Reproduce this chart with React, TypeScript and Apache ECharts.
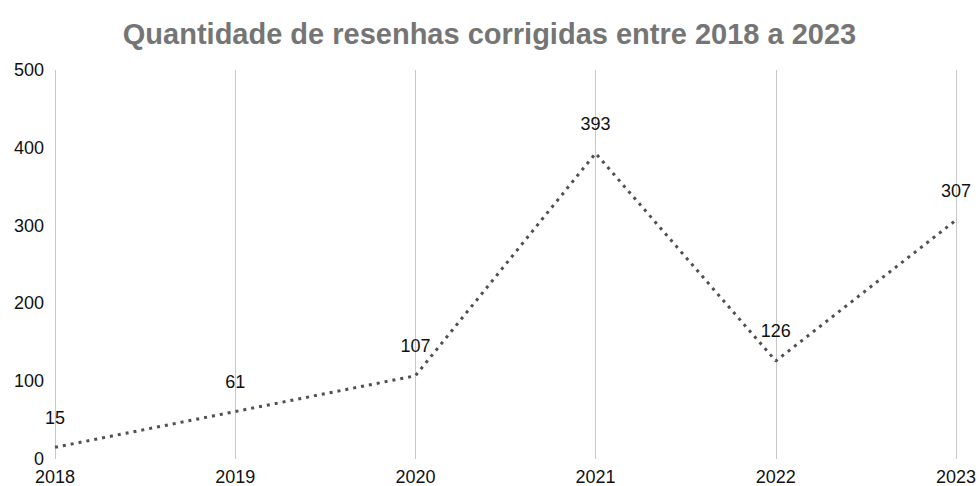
import React, { useEffect, useRef } from "react";
import * as echarts from "echarts";

const years = ["2018", "2019", "2020", "2021", "2022", "2023"];
const values = [15, 61, 107, 393, 126, 307];
const yTicks = [0, 100, 200, 300, 400, 500];
const titleText = "Quantidade de resenhas corrigidas entre 2018 a 2023";

const FONT = "Liberation Sans, Arial, sans-serif";

export default function App() {
  const ref = useRef<HTMLDivElement>(null);
  useEffect(() => {
    if (!ref.current) return;
    const chart = echarts.init(ref.current, undefined, { renderer: "svg" });
    chart.setOption({
      animation: false,
      backgroundColor: "#ffffff",
      title: {
        text: titleText,
        left: "center",
        top: 14,
        textStyle: {
          fontFamily: FONT,
          fontSize: 29,
          fontWeight: "bold",
          color: "#757575",
        },
      },
      grid: { left: 55, right: 20, top: 70, bottom: 26 },
      xAxis: {
        type: "category",
        data: years,
        boundaryGap: false,
        axisLine: { show: false },
        axisTick: { show: false },
        axisLabel: {
          fontFamily: FONT,
          fontSize: 18,
          color: "#111",
          margin: 9,
          showMinLabel: true,
          showMaxLabel: true,
          interval: 0,
        },
        splitLine: { show: true, lineStyle: { color: "#c8c8c8", width: 1 } },
      },
      yAxis: {
        type: "value",
        min: yTicks[0],
        max: yTicks[yTicks.length - 1],
        interval: 100,
        axisLine: { show: false },
        axisTick: { show: false },
        splitLine: { show: false },
        axisLabel: {
          fontFamily: FONT,
          fontSize: 18,
          color: "#111",
          margin: 11,
        },
      },
      series: [
        {
          type: "line",
          data: values,
          symbol: "circle",
          symbolSize: 1,
          showSymbol: true,
          itemStyle: { color: "rgba(0,0,0,0)", borderWidth: 0 },
          lineStyle: { color: "#505050", width: 3, type: [3, 5] },
          label: {
            show: true,
            position: "top",
            distance: 20,
            fontFamily: FONT,
            fontSize: 18,
            color: "#111",
          },
        },
      ],
    });
    return () => chart.dispose();
  }, []);
  return <div ref={ref} style={{ width: 979, height: 486, position: "absolute", left: 0, top: 0 }} />;
}
